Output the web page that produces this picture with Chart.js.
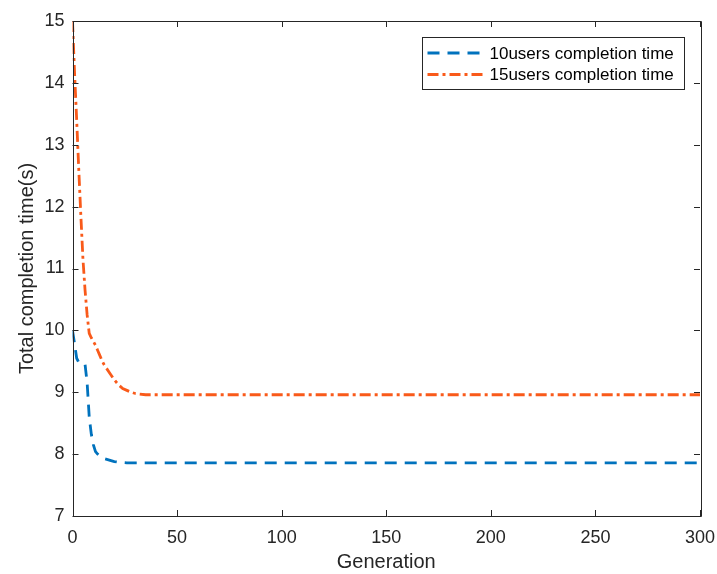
<!DOCTYPE html>
<html>
<head>
<meta charset="utf-8">
<script src="https://cdn.jsdelivr.net/npm/chart.js@4/dist/chart.umd.min.js"></script>
<style>
  html, body { margin: 0; padding: 0; background: #fff; }
  #wrap { width: 717px; height: 574px; }
</style>
</head>
<body>
<div id="wrap"><canvas id="chart" width="717" height="574"></canvas></div>
<script>
// generations
const generations = [0, 1, 2, 3, 4, 5, 6, 7, 8, 9, 10, 11, 12, 13, 14, 15, 16, 18, 20, 22, 24, 26, 28, 30, 35, 40, 50, 75, 100, 150, 200, 250, 300];
const users10 = [10.0, 9.78, 9.55, 9.48, 9.47, 9.47, 9.45, 9.15, 8.6, 8.32, 8.15, 8.04, 8.0, 7.97, 7.95, 7.93, 7.92, 7.9, 7.88, 7.87, 7.865, 7.86, 7.86, 7.86, 7.86, 7.86, 7.86, 7.86, 7.86, 7.86, 7.86, 7.86, 7.86];
const users15 = [15.0, 14.15, 13.4, 12.6, 11.85, 11.15, 10.65, 10.25, 9.95, 9.88, 9.82, 9.76, 9.68, 9.6, 9.52, 9.45, 9.4, 9.3, 9.2, 9.12, 9.06, 9.03, 9.0, 8.98, 8.96, 8.96, 8.96, 8.96, 8.96, 8.96, 8.96, 8.96, 8.96];
const seriesLabels = ['10users completion time', '15users completion time'];
const xTicks = [0, 50, 100, 150, 200, 250, 300];
const yTicks = [7, 8, 9, 10, 11, 12, 13, 14, 15];

const FONT = 'Arial, "Liberation Sans", Helvetica, sans-serif';
const INK = '#262626';

function toPoints(ys) {
  return generations.map((g, i) => ({ x: g, y: ys[i] }));
}

// matlab style box with inward ticks on all sides
const boxPlugin = {
  id: 'boxPlugin',
  afterDraw(chart) {
    const { ctx, chartArea: a, scales } = chart;
    const len = 6;
    ctx.save();
    ctx.strokeStyle = INK;
    ctx.lineWidth = 1;
    ctx.setLineDash([]);
    ctx.beginPath();
    ctx.rect(Math.round(a.left) + 0.5, Math.round(a.top) + 0.5, Math.round(a.right - a.left), Math.round(a.bottom - a.top));
    xTicks.forEach(v => {
      const px = Math.round(scales.x.getPixelForValue(v)) + 0.5;
      ctx.moveTo(px, a.bottom); ctx.lineTo(px, a.bottom - len);
      ctx.moveTo(px, a.top); ctx.lineTo(px, a.top + len);
    });
    yTicks.forEach(v => {
      const py = Math.round(scales.y.getPixelForValue(v)) + 0.5;
      ctx.moveTo(a.left, py); ctx.lineTo(a.left + len, py);
      ctx.moveTo(a.right, py); ctx.lineTo(a.right - len, py);
    });
    ctx.stroke();

    // legend box, top right inside the axes
    const sets = chart.data.datasets;
    const boxW = 262, rowH = 21.5;
    const boxH = 52;
    const bx = Math.round(a.right - 16 - boxW) + 0.5;
    const by = Math.round(a.top + 16) + 0.5;
    ctx.fillStyle = '#fff';
    ctx.fillRect(bx, by, boxW, boxH);
    ctx.strokeStyle = INK;
    ctx.strokeRect(bx, by, boxW, boxH);
    ctx.font = '17px ' + FONT;
    ctx.textBaseline = 'middle';
    ctx.textAlign = 'left';
    sets.forEach((ds, i) => {
      const cy = by + 15.5 + i * rowH;
      ctx.beginPath();
      ctx.strokeStyle = ds.borderColor;
      ctx.lineWidth = ds.borderWidth;
      ctx.setLineDash(ds.borderDash);
      ctx.moveTo(bx + 5, cy);
      ctx.lineTo(bx + 62, cy);
      ctx.stroke();
      ctx.setLineDash([]);
      ctx.fillStyle = '#000';
      ctx.fillText(ds.label, bx + 67, cy + 1);
    });
    ctx.restore();
  }
};

const ctx = document.getElementById('chart').getContext('2d');
new Chart(ctx, {
  type: 'line',
  data: {
    datasets: [
      {
        label: seriesLabels[0],
        data: toPoints(users10),
        borderColor: '#0072BD',
        borderWidth: 2.8,
        borderDash: [12, 8],
        pointRadius: 0,
        tension: 0,
        fill: false
      },
      {
        label: seriesLabels[1],
        data: toPoints(users15),
        borderColor: '#F95A1A',
        borderWidth: 2.8,
        borderDash: [11, 4, 3, 4],
        pointRadius: 0,
        tension: 0,
        fill: false
      }
    ]
  },
  options: {
    responsive: false,
    animation: false,
    layout: { padding: { top: 21, right: 17, left: 0, bottom: 0 } },
    plugins: {
      legend: { display: false },
      tooltip: { enabled: false }
    },
    scales: {
      x: {
        type: 'linear',
        min: 0,
        max: 300,
        afterBuildTicks: s => { s.ticks = xTicks.map(v => ({ value: v })); },
        afterFit: s => { s.height = 58; s.paddingLeft = 0; s.paddingRight = 0; },
        grid: { display: false, drawTicks: false },
        border: { display: false },
        ticks: { color: INK, font: { family: FONT, size: 18 }, padding: 11, maxRotation: 0 },
        title: { display: true, text: 'Generation', color: INK, font: { family: FONT, size: 20 }, padding: { top: 0, bottom: 0 } }
      },
      y: {
        type: 'linear',
        min: 7,
        max: 15,
        afterBuildTicks: s => { s.ticks = yTicks.map(v => ({ value: v })); },
        afterFit: s => { s.width = 72.5; s.paddingTop = 0; s.paddingBottom = 0; },
        grid: { display: false, drawTicks: false },
        border: { display: false },
        ticks: { color: INK, font: { family: FONT, size: 18 }, padding: 8 },
        title: { display: true, text: 'Total completion time(s)', color: INK, font: { family: FONT, size: 20 }, padding: { top: 15, bottom: 0 } }
      }
    }
  },
  plugins: [boxPlugin]
});
</script>
</body>
</html>
